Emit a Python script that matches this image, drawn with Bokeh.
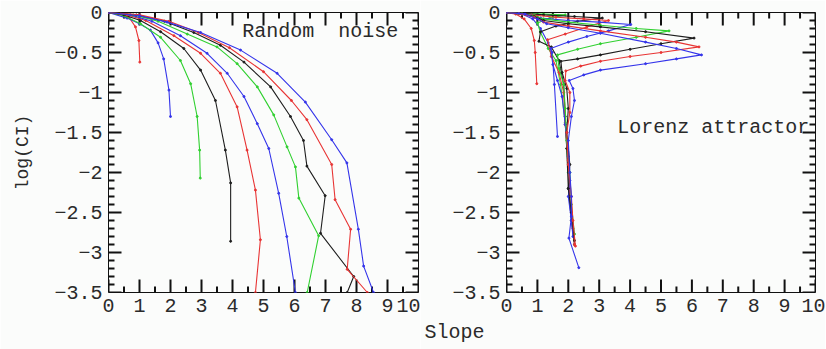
from bokeh.plotting import figure
from bokeh.models import FixedTicker, CustomJSTickFormatter, Label, Range1d, Title
from bokeh.layouts import row
from bokeh.embed import file_html
from bokeh.resources import INLINE

# ---------------- data: Random noise (embedding dims 1..10) ----------------
rn1_x = [0, 0.4, 0.66, 0.87, 0.98, 1.01]
rn1_y = [0, -0.02, -0.06, -0.18, -0.35, -0.62]
rn2_x = [0, 0.6, 1.0, 1.35, 1.6, 1.78, 1.95, 2.0]
rn2_y = [0, -0.07, -0.14, -0.22, -0.38, -0.58, -0.97, -1.3]
rn3_x = [0, 0.5, 1.03, 1.68, 2.32, 2.65, 2.86, 2.94, 2.96]
rn3_y = [0, -0.04, -0.14, -0.31, -0.6, -0.89, -1.3, -1.72, -2.07]
rn4_x = [0, 0.5, 1.03, 1.68, 2.43, 2.97, 3.45, 3.77, 3.94, 3.94]
rn4_y = [0, -0.03, -0.1, -0.24, -0.45, -0.72, -1.1, -1.72, -2.13, -2.86]
rn5_x = [0, 0.6, 1.2, 2.11, 2.97, 3.61, 4.15, 4.47, 4.74, 4.9, 4.74]
rn5_y = [0, -0.03, -0.1, -0.29, -0.51, -0.76, -1.18, -1.72, -2.22, -2.84, -3.5]
rn6_x = [0, 0.7, 1.4, 2.32, 3.18, 3.83, 4.37, 4.8, 5.17, 5.49, 5.75, 6.03]
rn6_y = [0, -0.03, -0.11, -0.29, -0.51, -0.76, -1.05, -1.39, -1.7, -2.26, -2.8, -3.5]
rn7_x = [0, 0.8, 1.6, 2.54, 3.5, 4.15, 4.8, 5.33, 5.76, 6.03, 6.14, 6.78, 6.41]
rn7_y = [0, -0.03, -0.11, -0.27, -0.43, -0.64, -0.93, -1.28, -1.68, -1.93, -2.32, -2.79, -3.5]
rn8_x = [0, 0.9, 1.8, 2.75, 3.61, 4.37, 5.23, 5.87, 6.29, 6.4, 6.99, 6.84, 7.91, 7.7]
rn8_y = [0, -0.03, -0.11, -0.25, -0.41, -0.62, -0.93, -1.3, -1.6, -1.92, -2.29, -2.76, -3.3, -3.5]
rn9_x = [0, 1.0, 1.95, 2.9, 3.9, 5.0, 5.9, 6.4, 7.2, 7.31, 7.81, 7.7, 8.35]
rn9_y = [0, -0.03, -0.11, -0.25, -0.44, -0.74, -1.1, -1.34, -1.9, -2.34, -2.71, -3.21, -3.5]
rn10_x = [0, 1.0, 1.89, 2.97, 4.26, 5.44, 6.35, 7.2, 7.69, 8.06, 8.23, 8.55]
rn10_y = [0, -0.04, -0.12, -0.25, -0.47, -0.76, -1.12, -1.59, -1.88, -2.71, -3.17, -3.5]

# ---------------- data: Lorenz attractor (embedding dims 1..10) ----------------
lz1_x = [0, 0.3, 0.57, 0.8, 0.9, 0.93, 0.98]
lz1_y = [0, -0.02, -0.08, -0.2, -0.35, -0.5, -0.89]
lz2_x = [0, 0.5, 0.85, 1.1, 1.35, 1.48, 1.55, 1.65]
lz2_y = [0, -0.02, -0.08, -0.2, -0.38, -0.5, -0.9, -1.55]
lz3_x = [0, 0.5, 1.2, 1.9, 1.4, 1.0, 1.1, 1.35, 1.6, 1.75, 1.9, 1.95, 2.0]
lz3_y = [0, -0.01, -0.02, -0.03, -0.07, -0.13, -0.25, -0.45, -0.6, -0.9, -1.38, -1.7, -2.0]
lz4_x = [0, 0.5, 1.2, 2.2, 3.1, 2.3, 1.6, 1.1, 1.05, 1.45, 1.7, 1.85, 1.9, 1.95, 2.0, 2.1, 2.2]
lz4_y = [0, -0.01, -0.03, -0.05, -0.07, -0.11, -0.17, -0.24, -0.36, -0.43, -0.6, -0.9, -1.3, -1.7, -2.2, -2.6, -2.9]
lz5_x = [0, 0.4, 0.8, 1.6, 2.5, 3.3, 2.6, 1.9, 1.33, 1.45, 1.7, 1.85, 1.9, 2.0, 2.05, 2.15, 2.2]
lz5_y = [0, -0.01, -0.03, -0.06, -0.08, -0.1, -0.18, -0.27, -0.34, -0.55, -0.75, -1.0, -1.4, -1.85, -2.3, -2.7, -2.9]
lz6_x = [0, 0.4, 0.8, 1.1, 2.0, 3.0, 4.02, 3.3, 2.6, 2.0, 1.43, 1.5, 1.65, 1.8, 1.9, 2.0, 2.05, 2.0, 2.1, 2.15]
lz6_y = [0, -0.01, -0.04, -0.07, -0.1, -0.12, -0.15, -0.23, -0.3, -0.37, -0.45, -0.65, -0.85, -1.05, -1.4, -1.8, -2.1, -2.3, -2.6, -2.8]
lz7_x = [0, 0.5, 0.9, 1.2, 2.0, 3.04, 4.2, 5.26, 4.2, 3.04, 2.3, 1.65, 1.7, 1.85, 1.9, 1.95, 2.05, 2.1, 2.2]
lz7_y = [0, -0.02, -0.04, -0.08, -0.12, -0.16, -0.2, -0.23, -0.31, -0.39, -0.46, -0.53, -0.7, -0.9, -1.2, -1.6, -2.0, -2.4, -2.77]
lz8_x = [0, 0.5, 0.9, 1.2, 2.0, 3.04, 4.5, 6.07, 5.0, 4.0, 3.04, 2.3, 1.76, 1.8, 1.95, 2.0, 1.95, 2.05, 2.0, 2.1, 2.2]
lz8_y = [0, -0.02, -0.05, -0.1, -0.14, -0.18, -0.24, -0.32, -0.39, -0.46, -0.53, -0.58, -0.61, -0.75, -0.95, -1.2, -1.5, -1.9, -2.2, -2.5, -2.85]
lz9_x = [0, 0.5, 0.9, 1.2, 2.0, 3.04, 4.5, 5.5, 6.23, 5.0, 4.0, 3.04, 2.4, 1.92, 1.9, 2.05, 2.05, 1.95, 2.0, 2.1, 2.15, 2.23]
lz9_y = [0, -0.02, -0.06, -0.12, -0.17, -0.23, -0.31, -0.37, -0.43, -0.5, -0.55, -0.61, -0.67, -0.73, -0.85, -1.0, -1.25, -1.5, -1.9, -2.3, -2.6, -2.92]
lz10_x = [0, 0.6, 1.0, 1.3, 2.0, 3.04, 4.5, 5.5, 6.31, 5.5, 4.5, 3.04, 2.5, 2.03, 2.15, 2.2, 2.1, 2.0, 2.05, 2.1, 2.1, 2.02, 2.34]
lz10_y = [0, -0.02, -0.08, -0.14, -0.19, -0.26, -0.37, -0.45, -0.53, -0.58, -0.64, -0.72, -0.78, -0.85, -0.95, -1.1, -1.3, -1.6, -2.0, -2.3, -2.55, -2.82, -3.19]

x_ticks = [0, 1, 2, 3, 4, 5, 6, 7, 8, 9, 10]
y_ticks = [0, -0.5, -1, -1.5, -2, -2.5, -3, -3.5]
x_minor = [0.5, 1.5, 2.5, 3.5, 4.5, 5.5, 6.5, 7.5, 8.5, 9.5]
y_minor = [-0.1, -0.2, -0.3, -0.4, -0.6, -0.7, -0.8, -0.9, -1.1, -1.2, -1.3, -1.4, -1.6, -1.7, -1.8, -1.9,
           -2.1, -2.2, -2.3, -2.4, -2.6, -2.7, -2.8, -2.9, -3.1, -3.2, -3.3, -3.4]

noise_curves = [(rn1_x, rn1_y), (rn2_x, rn2_y), (rn3_x, rn3_y), (rn4_x, rn4_y), (rn5_x, rn5_y),
                (rn6_x, rn6_y), (rn7_x, rn7_y), (rn8_x, rn8_y), (rn9_x, rn9_y), (rn10_x, rn10_y)]
lorenz_curves = [(lz1_x, lz1_y), (lz2_x, lz2_y), (lz3_x, lz3_y), (lz4_x, lz4_y), (lz5_x, lz5_y),
                 (lz6_x, lz6_y), (lz7_x, lz7_y), (lz8_x, lz8_y), (lz9_x, lz9_y), (lz10_x, lz10_y)]

# ---------------- style ----------------
COLORS = ["#e83434", "#3434ea", "#30d030", "#1e1e1e"]
BG = "#fbfcfb"
FONT = "Liberation Mono"
TXT = "#2a2a2a"
TICK = "#111111"
XMIN, XMAX, YMIN, YMAX = 0, 10, -3.5, 0
TOP = 12
FRAME_W, FRAME_H = 310, 280
MAJ_PX, MIN_PX = 13, 6

minus_fmt = "return tick < 0 ? '\\u2212' + (-tick) : '' + tick;"


def style_axis(ax):
    ax.major_tick_in = 0
    ax.major_tick_out = 0
    ax.minor_tick_in = 0
    ax.minor_tick_out = 0
    ax.axis_line_color = None
    ax.major_label_text_font = FONT
    ax.major_label_text_font_size = "20px"
    ax.major_label_text_color = TXT
    ax.major_label_standoff = 6


def add_ticks(p):
    # inward tick marks on all four sides: one multi_line, each tick a 2-point path
    ly = (YMAX - YMIN) / FRAME_H
    lx = (XMAX - XMIN) / FRAME_W
    xs, ys = [], []
    for ticks, px in ((x_ticks, MAJ_PX), (x_minor, MIN_PX)):
        for t in ticks:
            xs.append([t, t])
            ys.append([YMIN, YMIN + px * ly])
            xs.append([t, t])
            ys.append([YMAX, YMAX - px * ly])
    for ticks, px in ((y_ticks, MAJ_PX), (y_minor, MIN_PX)):
        for t in ticks:
            xs.append([XMIN, XMIN + px * lx])
            ys.append([t, t])
            xs.append([XMAX, XMAX - px * lx])
            ys.append([t, t])
    p.multi_line(xs=xs, ys=ys, line_color=TICK, line_width=2)


def make_fig(width, left, right, curves):
    p = figure(width=width, height=349, x_range=Range1d(XMIN, XMAX), y_range=Range1d(YMIN, YMAX),
               output_backend="svg", toolbar_location=None,
               min_border_left=left, min_border_right=right, min_border_top=TOP,
               min_border_bottom=349 - TOP - FRAME_H,
               background_fill_color=BG, border_fill_color=BG, outline_line_color="#111111")
    p.xgrid.visible = False
    p.ygrid.visible = False
    p.xaxis.ticker = FixedTicker(ticks=x_ticks)
    p.yaxis.ticker = FixedTicker(ticks=y_ticks)
    p.xaxis.formatter = CustomJSTickFormatter(code=minus_fmt)
    p.yaxis.formatter = CustomJSTickFormatter(code=minus_fmt)
    style_axis(p.xaxis[0])
    style_axis(p.yaxis[0])
    add_ticks(p)
    for i, (xs, ys) in enumerate(curves):
        c = COLORS[i % 4]
        p.line(xs, ys, line_color=c, line_width=1.1)
        p.scatter(xs, ys, size=2, color=c)
    return p


p1 = make_fig(420, 108, 2, noise_curves)
p2 = make_fig(405, 86, 10, lorenz_curves)

p1.yaxis[0].axis_label = "log(CI)"
p1.yaxis[0].axis_label_text_font = FONT
p1.yaxis[0].axis_label_text_font_size = "18px"
p1.yaxis[0].axis_label_text_font_style = "normal"
p1.yaxis[0].axis_label_text_color = TXT
p1.yaxis[0].axis_label_standoff = 18

p1.add_layout(Label(x=9.35, y=-0.24, text="Random \u00a0noise", text_align="right", text_baseline="middle",
                    text_font=FONT, text_font_size="20px", text_color=TXT))
p2.add_layout(Label(x=9.8, y=-1.44, text="Lorenz attractor", text_align="right", text_baseline="middle",
                    text_font=FONT, text_font_size="20px", text_color=TXT))
p2.add_layout(Title(text="Slope", align="left", offset=-82, standoff=9, text_font=FONT,
                    text_font_size="20px", text_font_style="normal", text_color=TXT), "below")

layout = row(p1, p2)
with open("out.html", "w", encoding="utf-8") as f:
    f.write(file_html(layout, INLINE))
